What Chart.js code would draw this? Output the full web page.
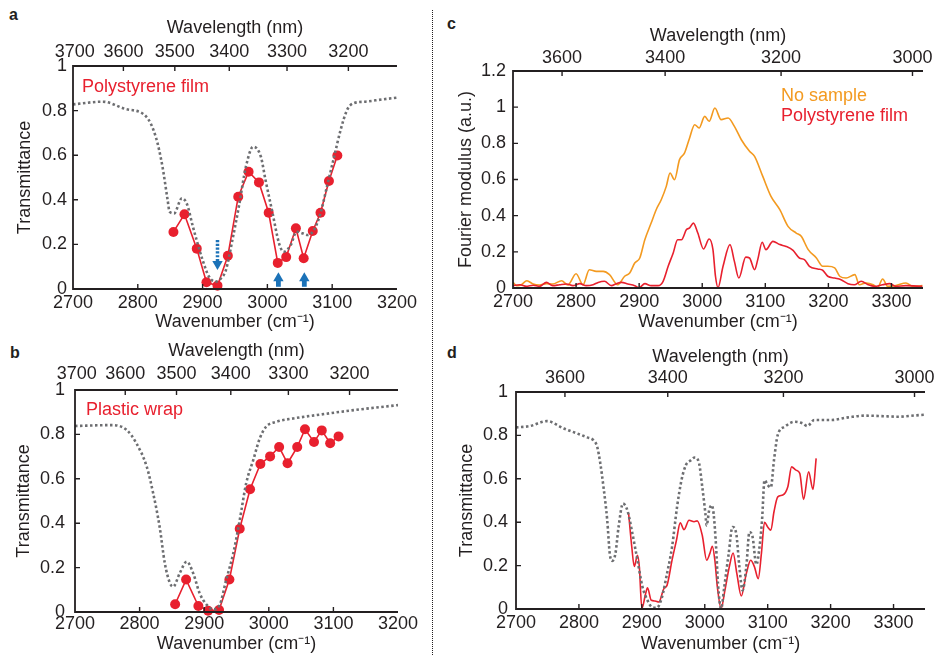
<!DOCTYPE html>
<html>
<head>
    <title>Laser spectroscopy of polymer films</title>
    <script src="https://cdn.jsdelivr.net/npm/chart.js"></script>
    <style>
        body {
            margin: 0;
            width: 938px;
            height: 655px;
            background: #ffffff;
            position: relative;
            overflow: hidden;
            font-family: "Liberation Sans", Arial, sans-serif;
        }

        .panel {
            position: absolute;
        }

        .letter {
            position: absolute;
            font-size: 16px;
            font-weight: bold;
            color: #231f20;
        }

        .divider {
            position: absolute;
            left: 432px;
            top: 10px;
            height: 645px;
            border-left: 1.5px dotted #231f20;
        }
    </style>
</head>
<body>
    <div class="letter" style="left:9px; top:6px;">a</div>
    <div class="letter" style="left:10px; top:344px;">b</div>
    <div class="letter" style="left:447px; top:15px;">c</div>
    <div class="letter" style="left:447px; top:344px;">d</div>
    <div class="divider"></div>

    <div class="panel" style="left:0; top:0;"><canvas id="chart-a" width="420" height="333"></canvas></div>
    <div class="panel" style="left:0; top:333px;"><canvas id="chart-b" width="420" height="322"></canvas></div>
    <div class="panel" style="left:438px; top:0;"><canvas id="chart-c" width="500" height="333"></canvas></div>
    <div class="panel" style="left:438px; top:333px;"><canvas id="chart-d" width="500" height="322"></canvas></div>

    <script>
        // ---- data ----
        // laser sample points (panels a and b), wavenumber in cm-1
        const laserWn = [2855, 2872, 2891, 2906, 2923, 2939, 2955, 2971, 2987, 3002, 3016, 3029, 3044, 3056, 3070, 3082, 3095, 3108];
        const psFilmT = [0.256, 0.335, 0.181, 0.030, 0.015, 0.149, 0.414, 0.526, 0.478, 0.342, 0.117, 0.143, 0.272, 0.138, 0.260, 0.342, 0.484, 0.599];
        const wrapT = [0.035, 0.146, 0.027, 0.006, 0.009, 0.146, 0.375, 0.553, 0.667, 0.701, 0.743, 0.670, 0.743, 0.823, 0.766, 0.818, 0.760, 0.791];

        // FTIR reference, polystyrene film (panel a)
        const psFtirWn = [2700, 2746, 2780, 2813, 2828, 2838, 2846, 2849, 2856, 2868, 2876, 2885, 2900, 2910, 2920, 2929, 2936, 2946, 2956, 2967, 2978, 2990, 2997, 3008, 3018, 3025, 3036, 3045, 3054, 3062, 3072, 3082, 3092, 3103, 3113, 3123, 3133, 3151, 3177, 3200];
        const psFtirT = [0.828, 0.840, 0.808, 0.773, 0.680, 0.550, 0.400, 0.347, 0.339, 0.407, 0.380, 0.280, 0.130, 0.055, 0.033, 0.050, 0.085, 0.220, 0.370, 0.550, 0.638, 0.593, 0.490, 0.340, 0.205, 0.167, 0.197, 0.257, 0.250, 0.242, 0.265, 0.340, 0.460, 0.593, 0.713, 0.803, 0.833, 0.840, 0.850, 0.858];

        // FTIR reference, plastic wrap (panel b)
        const wrapFtirWn = [2700, 2757, 2780, 2795, 2811, 2821, 2831, 2839, 2847, 2852, 2862, 2873, 2883, 2893, 2904, 2914, 2924, 2934, 2945, 2955, 2965, 2976, 2986, 2996, 3012, 3038, 3074, 3125, 3200];
        const wrapFtirT = [0.838, 0.842, 0.820, 0.760, 0.655, 0.535, 0.384, 0.220, 0.130, 0.114, 0.174, 0.227, 0.174, 0.084, 0.032, 0.012, 0.032, 0.144, 0.264, 0.414, 0.580, 0.685, 0.782, 0.835, 0.857, 0.872, 0.887, 0.907, 0.932];

        // Fourier modulus (panel c)
        const noSampleWn = [2700, 2706, 2713, 2722, 2732, 2742, 2753, 2763, 2777, 2787, 2800, 2811, 2821, 2832, 2843, 2853, 2866, 2877, 2885, 2893, 2901, 2909, 2919, 2927, 2935, 2943, 2949, 2956, 2964, 2972, 2980, 2988, 2995, 3004, 3011, 3020, 3030, 3041, 3051, 3062, 3075, 3083, 3096, 3109, 3123, 3136, 3149, 3157, 3168, 3181, 3191, 3199, 3210, 3218, 3228, 3242, 3249, 3260, 3271, 3278, 3286, 3294, 3307, 3323, 3334, 3349];
        const noSampleAmp = [0.031, 0.013, 0.018, 0.040, 0.022, 0.017, 0.024, 0.022, 0.040, 0.017, 0.079, 0.018, 0.101, 0.092, 0.092, 0.074, 0.018, 0.065, 0.083, 0.138, 0.166, 0.267, 0.359, 0.433, 0.488, 0.562, 0.636, 0.599, 0.710, 0.747, 0.830, 0.903, 0.885, 0.949, 0.922, 0.995, 0.931, 0.940, 0.894, 0.820, 0.756, 0.728, 0.617, 0.507, 0.433, 0.341, 0.304, 0.286, 0.212, 0.166, 0.120, 0.120, 0.111, 0.065, 0.055, 0.074, 0.018, 0.028, 0.018, 0.002, 0.050, 0.009, 0.013, 0.028, 0.009, 0.013];
        const psModWn = [2700, 2711, 2721, 2732, 2742, 2753, 2763, 2774, 2785, 2795, 2806, 2816, 2827, 2835, 2845, 2856, 2864, 2872, 2882, 2893, 2900, 2909, 2919, 2930, 2938, 2946, 2954, 2961, 2967, 2975, 2980, 2986, 2993, 3002, 3011, 3017, 3021, 3025, 3033, 3044, 3051, 3058, 3069, 3075, 3083, 3088, 3095, 3101, 3112, 3123, 3133, 3144, 3154, 3162, 3170, 3183, 3191, 3199, 3210, 3220, 3231, 3241, 3252, 3263, 3273, 3286, 3297, 3307, 3323, 3349];
        const psModAmp = [0.013, 0.018, 0.009, 0.015, 0.009, 0.031, 0.013, 0.018, 0.022, 0.013, 0.024, 0.013, 0.018, 0.031, 0.037, 0.013, 0.024, 0.031, 0.022, 0.013, 0.002, 0.024, 0.013, 0.013, 0.037, 0.120, 0.194, 0.267, 0.267, 0.323, 0.332, 0.359, 0.304, 0.216, 0.271, 0.212, 0.065, 0.002, 0.120, 0.240, 0.147, 0.055, 0.171, 0.166, 0.101, 0.157, 0.253, 0.212, 0.258, 0.240, 0.230, 0.208, 0.166, 0.157, 0.120, 0.105, 0.098, 0.065, 0.055, 0.046, 0.024, 0.018, 0.037, 0.018, 0.009, 0.018, 0.024, 0.009, 0.013, 0.009];

        // high resolution transmittance (panel d)
        const psRefWn = [2700, 2722, 2749, 2776, 2797, 2813, 2823, 2829, 2834, 2839, 2845, 2849, 2853, 2858, 2863, 2870, 2877, 2885, 2893, 2901, 2909, 2916, 2924, 2932, 2940, 2948, 2956, 2963, 2970, 2978, 2984, 2991, 2996, 3001, 3003, 3007, 3011, 3014, 3018, 3021, 3026, 3031, 3038, 3044, 3050, 3055, 3060, 3066, 3071, 3076, 3082, 3087, 3091, 3095, 3100, 3105, 3110, 3116, 3127, 3143, 3156, 3163, 3174, 3201, 3228, 3254, 3281, 3307, 3334, 3349];
        const psRefT = [0.837, 0.843, 0.866, 0.832, 0.809, 0.791, 0.778, 0.748, 0.671, 0.563, 0.409, 0.255, 0.222, 0.255, 0.378, 0.486, 0.455, 0.348, 0.225, 0.102, 0.040, 0.009, 0.006, 0.055, 0.163, 0.286, 0.471, 0.594, 0.663, 0.686, 0.698, 0.671, 0.563, 0.440, 0.385, 0.455, 0.478, 0.440, 0.286, 0.117, 0.002, 0.102, 0.255, 0.378, 0.348, 0.194, 0.086, 0.194, 0.355, 0.332, 0.205, 0.286, 0.409, 0.594, 0.571, 0.560, 0.686, 0.802, 0.840, 0.863, 0.855, 0.843, 0.871, 0.871, 0.883, 0.891, 0.889, 0.886, 0.892, 0.895];
        const psHiresWn = [2879, 2884, 2888, 2893, 2896, 2900, 2906, 2909, 2915, 2921, 2927, 2935, 2940, 2948, 2955, 2961, 2967, 2975, 2983, 2988, 2996, 3003, 3008, 3012, 3016, 3020, 3026, 3032, 3039, 3045, 3051, 3058, 3066, 3073, 3079, 3085, 3090, 3095, 3100, 3105, 3110, 3116, 3124, 3132, 3138, 3145, 3151, 3157, 3165, 3172, 3177];
        const psHiresT = [0.440, 0.286, 0.196, 0.248, 0.194, 0.003, 0.071, 0.098, 0.040, 0.037, 0.032, 0.094, 0.109, 0.225, 0.317, 0.397, 0.366, 0.409, 0.402, 0.406, 0.340, 0.225, 0.255, 0.289, 0.225, 0.102, 0.002, 0.086, 0.194, 0.258, 0.163, 0.060, 0.163, 0.225, 0.194, 0.140, 0.255, 0.400, 0.378, 0.363, 0.448, 0.517, 0.525, 0.563, 0.655, 0.640, 0.625, 0.505, 0.632, 0.551, 0.694];

        // axis ticks
        const wnTicksAB = [2700, 2800, 2900, 3000, 3100, 3200];
        const wnTicksCD = [2700, 2800, 2900, 3000, 3100, 3200, 3300];
        const nmTicksAB = [3700, 3600, 3500, 3400, 3300, 3200];
        const nmTicksCD = [3600, 3400, 3200, 3000];

        // arrows in panel a
        const dipArrowWn = [2923];
        const peakArrowWn = [3017, 3057];

        const INK = '#231f20';
        const RED = '#e8202e';
        const ORANGE = '#f39a20';
        const GREY = '#6d6e71';
        const BLUE = '#1b72b8';
        const FAMILY = '"Liberation Sans", Arial, sans-serif';

        const pts = (xs, ys) => xs.map((x, i) => ({x: x, y: ys[i]}));

        // axis lines on left, top and bottom plus inward tick marks
        const axisFrame = {
            id: 'axisFrame',
            afterDatasetsDraw(chart) {
                const {ctx, chartArea: a, scales} = chart;
                ctx.save();
                ctx.strokeStyle = INK;
                ctx.lineWidth = 1.8;
                ctx.beginPath();
                ctx.moveTo(a.right, a.top);
                ctx.lineTo(a.left, a.top);
                ctx.lineTo(a.left, a.bottom);
                ctx.lineTo(a.right, a.bottom);
                ctx.stroke();

                const tl = 5;
                ctx.lineWidth = 1.4;
                ctx.beginPath();
                scales.x.ticks.forEach(t => {
                    const px = scales.x.getPixelForValue(t.value);
                    if (px > a.left + 2 && px < a.right - 2) {
                        ctx.moveTo(px, a.bottom);
                        ctx.lineTo(px, a.bottom - tl);
                    }
                });
                scales.x2.ticks.forEach(t => {
                    const px = scales.x2.getPixelForValue(t.value);
                    if (px > a.left + 2 && px < a.right + 2) {
                        ctx.moveTo(px, a.top);
                        ctx.lineTo(px, a.top + tl);
                    }
                });
                scales.y.ticks.forEach(t => {
                    const py = scales.y.getPixelForValue(t.value);
                    if (py > a.top + 2 && py < a.bottom - 2) {
                        ctx.moveTo(a.left, py);
                        ctx.lineTo(a.left + tl, py);
                    }
                });
                ctx.stroke();
                ctx.restore();
            }
        };

        // coloured labels inside the plot, placed in data coordinates
        const panelText = {
            id: 'panelText',
            afterDraw(chart, args, opts) {
                const {ctx, scales} = chart;
                (opts.items || []).forEach(item => {
                    ctx.save();
                    ctx.font = '18px ' + FAMILY;
                    ctx.fillStyle = item.color;
                    ctx.textAlign = 'left';
                    ctx.textBaseline = 'middle';
                    ctx.fillText(item.text, scales.x.getPixelForValue(item.x), scales.y.getPixelForValue(item.y));
                    ctx.restore();
                });
            }
        };

        // blue arrows marking absorption lines in panel a
        const lineArrows = {
            id: 'lineArrows',
            afterDraw(chart, args, opts) {
                if (!opts.down) return;
                const {ctx, scales} = chart;
                const head = 9, halfW = 5.2;
                ctx.save();
                ctx.fillStyle = BLUE;
                ctx.strokeStyle = BLUE;
                opts.down.forEach(wn => {
                    const x = scales.x.getPixelForValue(wn);
                    const yTop = scales.y.getPixelForValue(opts.downFrom);
                    const yTip = scales.y.getPixelForValue(opts.downTip);
                    ctx.lineWidth = 3.5;
                    ctx.setLineDash([2.2, 1.6]);
                    ctx.beginPath();
                    ctx.moveTo(x, yTop);
                    ctx.lineTo(x, yTip - head);
                    ctx.stroke();
                    ctx.setLineDash([]);
                    ctx.beginPath();
                    ctx.moveTo(x - halfW, yTip - head);
                    ctx.lineTo(x + halfW, yTip - head);
                    ctx.lineTo(x, yTip);
                    ctx.closePath();
                    ctx.fill();
                });
                opts.up.forEach(wn => {
                    const x = scales.x.getPixelForValue(wn);
                    const yBase = scales.y.getPixelForValue(opts.upFrom);
                    const yTip = scales.y.getPixelForValue(opts.upTip);
                    ctx.fillRect(x - 2.4, yTip + head - 0.5, 4.8, yBase - yTip - head + 0.5);
                    ctx.beginPath();
                    ctx.moveTo(x - halfW, yTip + head);
                    ctx.lineTo(x + halfW, yTip + head);
                    ctx.lineTo(x, yTip);
                    ctx.closePath();
                    ctx.fill();
                });
                ctx.restore();
            }
        };

        function tickFont() {
            return {family: FAMILY, size: 18};
        }

        function buildChart(id, c) {
            const hidden = {display: false, drawTicks: false};
            return new Chart(document.getElementById(id), {
                type: 'line',
                data: {datasets: c.datasets},
                options: {
                    responsive: false,
                    animation: false,
                    devicePixelRatio: 1,
                    layout: {padding: {left: 0, right: c.padRight, top: 0, bottom: 0}},
                    plugins: {
                        legend: {display: false},
                        tooltip: {enabled: false},
                        panelText: {items: c.texts || []},
                        lineArrows: c.arrows || {}
                    },
                    scales: {
                        x: {
                            type: 'linear',
                            position: 'bottom',
                            min: 2700,
                            max: c.xMax,
                            afterBuildTicks: s => { s.ticks = c.wnTicks.map(v => ({value: v})); },
                            afterFit: s => { s.height = c.bottomH; },
                            grid: hidden,
                            border: {display: false},
                            ticks: {
                                color: INK, font: tickFont(), padding: c.bottomTickPad, maxRotation: 0, autoSkip: false,
                                callback: v => String(v)
                            },
                            title: {display: true, text: 'Wavenumber (cm⁻¹)', color: INK, font: tickFont(), padding: {top: 0, bottom: 0}}
                        },
                        x2: {
                            type: 'linear',
                            position: 'top',
                            min: 2700,
                            max: c.xMax,
                            afterBuildTicks: s => { s.ticks = c.nmTicks.map(nm => ({value: 1e7 / nm})); },
                            afterFit: s => { s.height = c.topH; },
                            grid: hidden,
                            border: {display: false},
                            ticks: {
                                color: INK, font: tickFont(), padding: c.topTickPad, maxRotation: 0, autoSkip: false,
                                callback: v => String(Math.round(1e7 / v))
                            },
                            title: {display: true, text: 'Wavelength (nm)', color: INK, font: tickFont(), padding: {top: c.topTitlePad, bottom: 0}}
                        },
                        y: {
                            type: 'linear',
                            min: 0,
                            max: c.yMax,
                            afterFit: s => { s.width = c.leftW; },
                            grid: hidden,
                            border: {display: false},
                            ticks: {
                                color: INK, font: tickFont(), padding: c.yTickPad, stepSize: 0.2,
                                callback: v => String(Number(v.toFixed(1)))
                            },
                            title: {display: true, text: c.yTitle, color: INK, font: tickFont(), padding: {top: c.yTitlePad, bottom: 0}}
                        }
                    }
                },
                plugins: [axisFrame, panelText, lineArrows]
            });
        }

        function refLine(xs, ys) {
            return {
                data: pts(xs, ys), borderColor: GREY, borderWidth: 2.6, borderDash: [2.5, 2.5],
                pointRadius: 0, cubicInterpolationMode: 'monotone', fill: false
            };
        }

        function markerLine(xs, ys) {
            return {
                data: pts(xs, ys), borderColor: RED, backgroundColor: RED, borderWidth: 1.6,
                pointRadius: 5, pointBorderWidth: 0, tension: 0, clip: false, fill: false
            };
        }

        function smoothLine(xs, ys, color) {
            return {
                data: pts(xs, ys), borderColor: color, borderWidth: 1.6,
                pointRadius: 0, cubicInterpolationMode: 'monotone', fill: false
            };
        }

        buildChart('chart-a', {
            xMax: 3200, wnTicks: wnTicksAB, nmTicks: nmTicksAB, yMax: 1, yTitle: 'Transmittance',
            leftW: 73, padRight: 22, topH: 66, bottomH: 44,
            topTitlePad: 17, topTickPad: 3, bottomTickPad: 3, yTitlePad: 14, yTickPad: 6,
            datasets: [refLine(psFtirWn, psFtirT), markerLine(laserWn, psFilmT)],
            texts: [{text: 'Polystyrene film', color: RED, x: 2714, y: 0.906}],
            arrows: {down: dipArrowWn, downFrom: 0.22, downTip: 0.085, up: peakArrowWn, upFrom: 0.01, upTip: 0.075}
        });

        buildChart('chart-b', {
            xMax: 3200, wnTicks: wnTicksAB, nmTicks: nmTicksAB, yMax: 1, yTitle: 'Transmittance',
            leftW: 75, padRight: 22, topH: 57, bottomH: 43,
            topTitlePad: 7, topTickPad: 5, bottomTickPad: 1.5, yTitlePad: 13, yTickPad: 10,
            datasets: [refLine(wrapFtirWn, wrapFtirT), markerLine(laserWn, wrapT)],
            texts: [{text: 'Plastic wrap', color: RED, x: 2717, y: 0.91}]
        });

        buildChart('chart-c', {
            xMax: 3350, wnTicks: wnTicksCD, nmTicks: nmTicksCD, yMax: 1.2, yTitle: 'Fourier modulus (a.u.)',
            leftW: 75, padRight: 15, topH: 71, bottomH: 45,
            topTitlePad: 25, topTickPad: 2, bottomTickPad: 3, yTitlePad: 17, yTickPad: 7,
            datasets: [smoothLine(psModWn, psModAmp, RED), smoothLine(noSampleWn, noSampleAmp, ORANGE)],
            texts: [
                {text: 'No sample', color: ORANGE, x: 3125, y: 1.062},
                {text: 'Polystyrene film', color: RED, x: 3125, y: 0.951}
            ]
        });

        buildChart('chart-d', {
            xMax: 3350, wnTicks: wnTicksCD, nmTicks: nmTicksCD, yMax: 1, yTitle: 'Transmittance',
            leftW: 78, padRight: 13, topH: 59, bottomH: 46,
            topTitlePad: 13, topTickPad: 3, bottomTickPad: 3, yTitlePad: 18, yTickPad: 8,
            datasets: [refLine(psRefWn, psRefT), smoothLine(psHiresWn, psHiresT, RED)]
        });
    </script>
</body>
</html>
